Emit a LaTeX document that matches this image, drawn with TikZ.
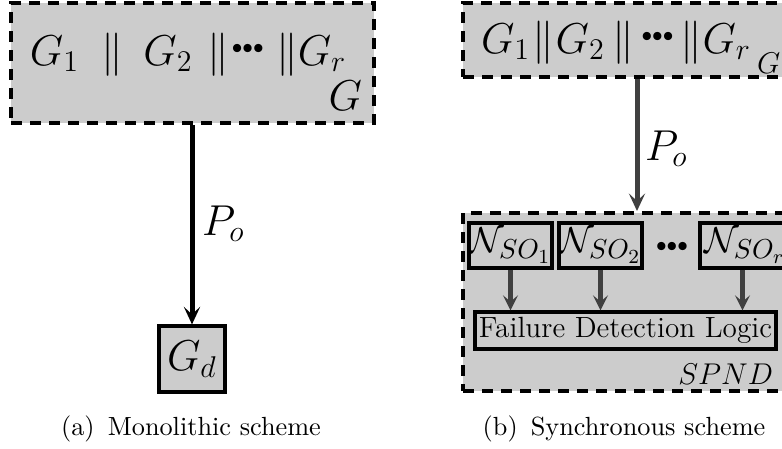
\documentclass[tikz,border=0pt]{standalone}
\usepackage{amsmath}
\usetikzlibrary{arrows.meta,fit}
\definecolor{boxgray}{HTML}{CCCCCC}
\definecolor{flowgray}{HTML}{404040}
\newcommand{\bigmath}{\fontsize{17}{20}\selectfont}
\newcommand{\tripledots}{\raisebox{4.6pt}{$\scriptscriptstyle\bullet\bullet\bullet$}}
\begin{document}
\begin{tikzpicture}[x=0.4pt,y=-0.4pt,
  dashbox/.style={draw=black, line width=1.6pt, dash pattern=on 4.4pt off 3.2pt, fill=boxgray, inner sep=0pt},
  solidbox/.style={draw=black, line width=1.3pt, fill=boxgray, inner sep=0pt},
  mainflow/.style={line width=2pt, -{Stealth[length=7pt,width=6.5pt,inset=3pt]}},
  grayflow/.style={draw=flowgray, line width=2pt, -{Stealth[length=7pt,width=6.5pt,inset=3pt]}},
  subflow/.style={draw=flowgray, line width=1.8pt, -{Stealth[length=6pt,width=6pt,inset=2.5pt]}},
  plain/.style={inner sep=0pt, outer sep=0pt}]
\useasboundingbox (0,0) rectangle (782,448);

% ---------- (a) monolithic scheme ----------
\node[dashbox, fit={(11,3) (374,123)}] (Ga) {};
\node[plain, anchor=base west] (rowa) at (30,65)
  {\bigmath $G_1\hspace{9pt}\|\hspace{8pt}G_2\hspace{6pt}\|\hspace{1pt}\tripledots\hspace{5pt}\|G_r$};
\node[plain, anchor=base east] (labGa) at (362,110) {\bigmath $G$};
\node[solidbox, fit={(159,326) (225,392)}] (Gd) {};
\node[plain] (Gdtext) at (Gd.center) {\bigmath $G_d$};
\draw[mainflow] (Gd.north |- Ga.south) -- (Gd.north);
\node[plain, anchor=base west] (Poa) at (202,235) {\bigmath $P_o$};
\node[plain, anchor=base] (capa) at (191,435) {\fontsize{10.5}{12}\selectfont (a)\enspace Monolithic scheme};

% ---------- (b) synchronous scheme ----------
\node[dashbox, fit={(463,3) (811,77)}] (Gb) {};
\node[plain, anchor=base west] (rowb) at (481,53)
  {\bigmath $G_1\hspace{1pt}\|\hspace{0.5pt}G_2\hspace{3pt}\|\hspace{3pt}\tripledots\hspace{3pt}\|G_r$};
\node[plain, anchor=base west] (labGb) at (757,73) {\fontsize{12}{14}\selectfont $G$};
\node[dashbox, fit={(463,213) (811,391)}] (spnd) {};
\draw[grayflow] (Gb.south) -- (spnd.north);
\node[plain, anchor=base west] (Pob) at (645,160) {\bigmath $P_o$};

\node[solidbox, fit={(469,223) (552,268)}] (n1) {};
\node[solidbox, fit={(559,223) (642,268)}] (n2) {};
\node[solidbox, fit={(700,223) (785,268)}] (nr) {};
\node[plain] at (n1.center) {\fontsize{15.3}{18}\selectfont $\mathcal{N}_{SO_1}$};
\node[plain] at (n2.center) {\fontsize{15.3}{18}\selectfont $\mathcal{N}_{SO_2}$};
\node[plain] at ([xshift=1pt]nr.center) {\fontsize{15.3}{18}\selectfont $\mathcal{N}_{SO_r}$};
\node[plain] (ndots) at (672,247) {\fontsize{17}{20}\selectfont\raisebox{-1pt}{$\scriptscriptstyle\bullet\bullet\bullet$}};

\node[solidbox, fit={(475,312) (776,349)}] (fdl) {};
\node[plain] (fdltext) at (fdl.center) {\fontsize{11.7}{13}\selectfont Failure Detection Logic};
\draw[subflow] (n1.south) -- (n1.south |- fdl.north);
\draw[subflow] (n2.south) -- (n2.south |- fdl.north);
\draw[subflow] (nr.south) -- (nr.south |- fdl.north);
\node[plain, anchor=base east] (spndlab) at (773,384) {\fontsize{12}{14}\selectfont $SPND$};
\node[plain, anchor=base] (capb) at (624,435) {\fontsize{10.5}{12}\selectfont (b)\enspace Synchronous scheme};
\end{tikzpicture}
\end{document}
